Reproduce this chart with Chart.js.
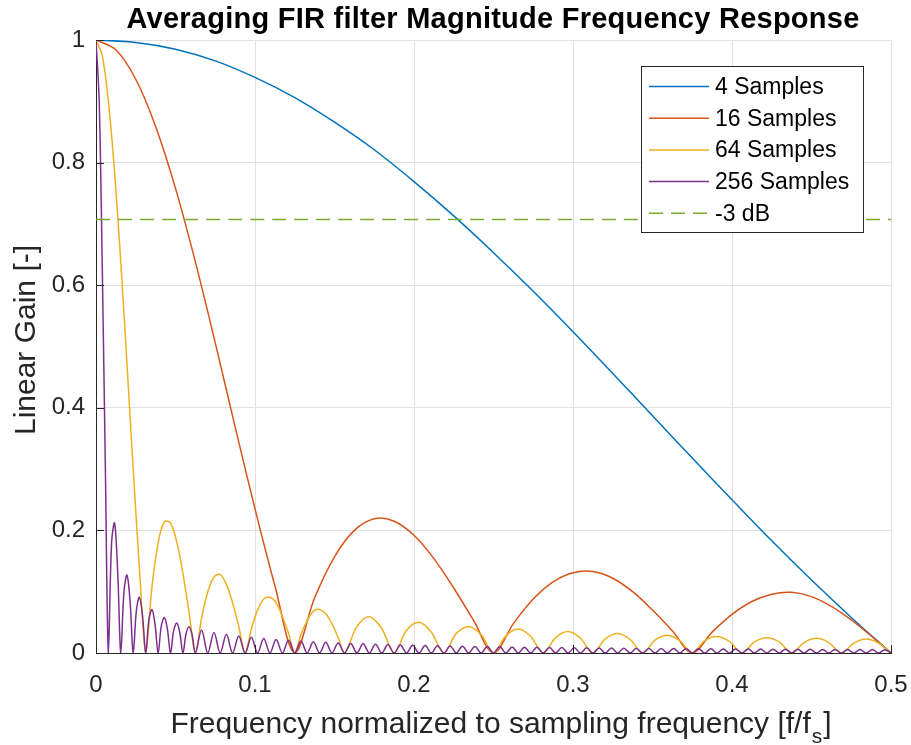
<!DOCTYPE html>
<html>
<head>
<meta charset="utf-8">
<script src="https://cdn.jsdelivr.net/npm/chart.js@4"></script>
<style>
  html, body { margin: 0; padding: 0; background: #fff; }
  canvas { display: block; }
</style>
</head>
<body>
<canvas id="c" width="911" height="745"></canvas>
<script>
// values: normalized frequency f/fs and linear gain
const freq4 = [0, 0.025, 0.05, 0.075, 0.1, 0.125, 0.15, 0.175, 0.2, 0.225, 0.25, 0.275, 0.3, 0.325, 0.35, 0.375, 0.4, 0.425, 0.45, 0.475, 0.5];
const gain4 = [1, 0.996, 0.985, 0.966, 0.939, 0.906, 0.866, 0.821, 0.769, 0.713, 0.653, 0.590, 0.524, 0.456, 0.387, 0.318, 0.250, 0.183, 0.119, 0.058, 0];

const freq16 = [0, 0.0125, 0.025, 0.0375, 0.05, 0.0625, 0.075, 0.0875, 0.1, 0.1125, 0.125, 0.1375, 0.15, 0.1625, 0.175, 0.1875, 0.2, 0.2125, 0.225, 0.2375, 0.25,
  0.2625, 0.275, 0.2875, 0.3, 0.3125, 0.325, 0.3375, 0.35, 0.3625, 0.375, 0.3875, 0.4, 0.4125, 0.425, 0.4375, 0.45, 0.4625, 0.475, 0.4875, 0.5];
const gain16 = [1, 0.984, 0.936, 0.859, 0.758, 0.638, 0.506, 0.369, 0.235, 0.110, 0, 0.090, 0.157, 0.200, 0.219, 0.215, 0.192, 0.154, 0.106, 0.053, 0,
  0.048, 0.088, 0.116, 0.131, 0.133, 0.122, 0.100, 0.070, 0.036, 0, 0.034, 0.063, 0.084, 0.096, 0.099, 0.092, 0.076, 0.054, 0.028, 0];

const freq64 = [0, .0039, .0078, .0117, .0156, .0195, .0234, .0273, .0313, .0352, .0391, .043, .0469, .0508, .0547, .0586, .0625,
  .0664, .0703, .0742, .0781, .082, .0859, .0898, .0938, .0977, .1016, .1055, .1094, .1133, .1172, .1211, .125,
  .1289, .1328, .1367, .1406, .1445, .1484, .1523, .1563,
  .1641, .1719, .1797, .1875, .1953, .2031, .2109, .2188, .2266, .2344, .2422, .25,
  .2578, .2656, .2734, .2813, .2891, .2969, .3047, .3125, .3203, .3281, .3359, .3438, .3516, .3594, .3672, .375,
  .3828, .3906, .3984, .4063, .4141, .4219, .4297, .4375, .4453, .4531, .4609, .4688, .4766, .4844, .4922, .5];
const gain64 = [1, .975, .900, .784, .637, .471, .300, .139, 0, .108, .180, .214, .212, .181, .129, .065, 0,
  .057, .100, .124, .128, .112, .082, .043, 0, .039, .070, .088, .091, .082, .060, .032, 0,
  .030, .053, .068, .071, .064, .048, .025, 0,
  .043, .059, .040, 0, .037, .050, .034, 0, .032, .043, .030, 0,
  .028, .039, .027, 0, .025, .035, .024, 0, .023, .032, .022, 0, .021, .029, .020, 0,
  .020, .027, .019, 0, .018, .025, .018, 0, .017, .024, .017, 0, .016, .023, .016, 0];

const freq256 = [0, .002, .0039, .0059, .0078, .0098, .0117, .0137, .0156, .0176, .0195, .0215, .0234, .0254, .0273, .0293, .0313,
  .0332, .0352, .0371, .0391, .041, .043, .0449, .0469, .0488, .0508, .0527, .0547, .0566, .0586, .0605, .0625,
  .0664, .0703, .0742, .0781, .082, .0859, .0898, .0938, .0977, .1016, .1055, .1094, .1133, .1172, .1211, .125,
  .1289, .1328, .1367, .1406, .1445, .1484, .1523, .1563, .1602, .1641, .168, .1719, .1758, .1797, .1836, .1875,
  .1914, .1953, .1992, .2031, .207, .2109, .2148, .2188, .2227, .2266, .2305, .2344, .2383, .2422, .2461, .25,
  .2539, .2578, .2617, .2656, .2695, .2734, .2773, .2813, .2852, .2891, .293, .2969, .3008, .3047, .3086, .3125,
  .3164, .3203, .3242, .3281, .332, .3359, .3398, .3438, .3477, .3516, .3555, .3594, .3633, .3672, .3711, .375,
  .3789, .3828, .3867, .3906, .3945, .3984, .4023, .4063, .4102, .4141, .418, .4219, .4258, .4297, .4336, .4375,
  .4414, .4453, .4492, .4531, .457, .4609, .4648, .4688, .4727, .4766, .4805, .4844, .4883, .4922, .4961, .5];
const gain256 = [1, .900, .637, .300, 0, .180, .212, .129, 0, .100, .127, .082, 0, .069, .091, .060, 0,
  .053, .071, .047, 0, .043, .058, .039, 0, .036, .049, .033, 0, .031, .043, .029, 0,
  .0375, 0, .0336, 0, .0304, 0, .0278, 0, .0256, 0, .0237, 0, .0221, 0, .0207, 0,
  .0194, 0, .0183, 0, .0174, 0, .0165, 0, .0157, 0, .015, 0, .0143, 0, .0137, 0,
  .0132, 0, .0127, 0, .0122, 0, .0118, 0, .0114, 0, .011, 0, .0107, 0, .0104, 0,
  .0101, 0, .0098, 0, .0095, 0, .0093, 0, .009, 0, .0088, 0, .0086, 0, .0084, 0,
  .0082, 0, .008, 0, .0078, 0, .0077, 0, .0075, 0, .0074, 0, .0072, 0, .0071, 0,
  .007, 0, .0068, 0, .0067, 0, .0066, 0, .0065, 0, .0064, 0, .0063, 0, .0062, 0,
  .0061, 0, .006, 0, .0059, 0, .0058, 0, .0058, 0, .0057, 0, .0056, 0, .0055, 0];

const freq3dB = [0, 0.5];
const gain3dB = [0.7071, 0.7071];

const seriesNames = ['4 Samples', '16 Samples', '64 Samples', '256 Samples', '-3 dB'];
const xTicks = [0, 0.1, 0.2, 0.3, 0.4, 0.5];
const yTicks = [0, 0.2, 0.4, 0.6, 0.8, 1];

const AX = '#262626';
const FONT = '"Liberation Sans", Arial, Helvetica, sans-serif';

function pts(xs, ys) {
  return xs.map((x, i) => ({ x: x, y: ys[i] }));
}

function ds(i, xs, ys, color, dash) {
  return {
    label: seriesNames[i],
    data: pts(xs, ys),
    borderColor: color,
    backgroundColor: color,
    borderWidth: 1.5,
    borderDash: dash || [],
    pointRadius: 0,
    tension: 0.35,
    fill: false,
    order: 4 - i
  };
}

// title, axis titles, inward ticks and the boxed legend
const decor = {
  id: 'decor',
  afterDraw(chart) {
    const ctx = chart.ctx;
    const a = chart.chartArea;
    const xs = chart.scales.x, ys = chart.scales.y;
    ctx.save();

    // inward tick marks
    ctx.strokeStyle = AX;
    ctx.lineWidth = 1;
    ctx.beginPath();
    yTicks.forEach(v => {
      const y = Math.round(ys.getPixelForValue(v)) + 0.5;
      ctx.moveTo(a.left, y); ctx.lineTo(a.left + 8, y);
    });
    xTicks.forEach(v => {
      const x = Math.round(xs.getPixelForValue(v)) + 0.5;
      ctx.moveTo(x, a.bottom); ctx.lineTo(x, a.bottom - 8);
    });
    ctx.stroke();

    // title
    ctx.fillStyle = '#000';
    ctx.font = 'bold 29px ' + FONT;
    ctx.letterSpacing = '0.25px';
    ctx.textAlign = 'center';
    ctx.textBaseline = 'alphabetic';
    ctx.fillText('Averaging FIR filter Magnitude Frequency Response', 493, 28);
    ctx.letterSpacing = '0px';

    // y title
    ctx.fillStyle = AX;
    ctx.font = '30px ' + FONT;
    ctx.save();
    ctx.translate(35, 340);
    ctx.rotate(-Math.PI / 2);
    ctx.textAlign = 'center';
    ctx.fillText('Linear Gain [-]', 0, 0);
    ctx.restore();

    // x title with subscript
    const t1 = 'Frequency normalized to sampling frequency [f/f';
    const t2 = 's';
    const t3 = ']';
    ctx.font = '30px ' + FONT;
    const w1 = ctx.measureText(t1).width;
    const w3 = ctx.measureText(t3).width;
    ctx.font = '21px ' + FONT;
    const w2 = ctx.measureText(t2).width + 2;
    const x0 = 501 - (w1 + w2 + w3) / 2;
    const by = 733;
    ctx.textAlign = 'left';
    ctx.font = '30px ' + FONT;
    ctx.fillText(t1, x0, by);
    ctx.font = '21px ' + FONT;
    ctx.fillText(t2, x0 + w1 + 1, by + 10);
    ctx.font = '30px ' + FONT;
    ctx.fillText(t3, x0 + w1 + w2, by);

    // legend box
    const lx = 641.5, ly = 66.5, lw = 222, lh = 166;
    ctx.fillStyle = '#fff';
    ctx.fillRect(lx, ly, lw, lh);
    ctx.strokeStyle = AX;
    ctx.lineWidth = 1;
    ctx.strokeRect(lx, ly, lw, lh);
    ctx.font = '23px ' + FONT;
    ctx.textBaseline = 'middle';
    ctx.textAlign = 'left';
    chart.data.datasets.forEach((d, i) => {
      const y = 86.5 + i * 31.7;
      ctx.strokeStyle = d.borderColor;
      ctx.lineWidth = d.borderWidth;
      ctx.setLineDash(d.borderDash);
      ctx.beginPath();
      ctx.moveTo(649, y); ctx.lineTo(709, y);
      ctx.stroke();
      ctx.setLineDash([]);
      ctx.fillStyle = '#000';
      ctx.fillText(d.label, 715, y + 1);
    });
    ctx.restore();
  }
};

new Chart(document.getElementById('c'), {
  type: 'line',
  data: {
    datasets: [
      ds(0, freq4, gain4, '#0072BD'),
      ds(1, freq16, gain16, '#D95319'),
      ds(2, freq64, gain64, '#EDB120'),
      ds(3, freq256, gain256, '#7E2F8E'),
      ds(4, freq3dB, gain3dB, '#77AC30', [14, 8])
    ]
  },
  options: {
    responsive: false,
    animation: false,
    devicePixelRatio: 1,
    layout: { padding: { top: 40, right: 20, left: 0, bottom: 0 } },
    plugins: {
      legend: { display: false },
      title: { display: false },
      tooltip: { enabled: false }
    },
    scales: {
      x: {
        type: 'linear',
        min: 0, max: 0.5,
        afterBuildTicks: s => { s.ticks = xTicks.map(v => ({ value: v })); },
        afterFit: s => { s.height = 92; s.paddingLeft = 0; s.paddingRight = 0; },
        ticks: {
          color: AX,
          font: { family: FONT, size: 24 },
          padding: 18,
          maxRotation: 0,
          callback: v => String(+v.toFixed(1))
        },
        grid: { color: '#dfdfdf', drawTicks: false },
        border: { color: AX, width: 1 }
      },
      y: {
        min: 0, max: 1,
        afterBuildTicks: s => { s.ticks = yTicks.map(v => ({ value: v })); },
        afterFit: s => { s.width = 96; s.paddingTop = 0; s.paddingBottom = 0; },
        ticks: {
          color: AX,
          font: { family: FONT, size: 24 },
          padding: 11,
          callback: v => String(+v.toFixed(1))
        },
        grid: { color: '#dfdfdf', drawTicks: false },
        border: { color: AX, width: 1 }
      }
    }
  },
  plugins: [decor]
});
</script>
</body>
</html>
